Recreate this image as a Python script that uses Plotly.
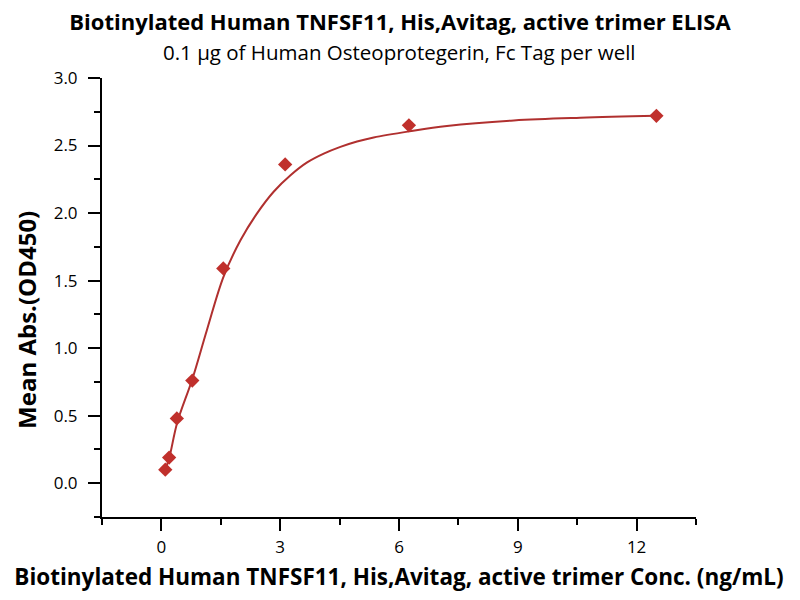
import plotly.graph_objects as go

# measured points
conc = [0.098, 0.195, 0.39, 0.78, 1.5625, 3.125, 6.25, 12.5]
od450 = [0.10, 0.19, 0.48, 0.76, 1.59, 2.36, 2.65, 2.72]

# fitted curve
fit_x = [0.098, 0.20, 0.40, 0.78, 1.15, 1.57, 2.00, 2.42, 2.84, 3.26, 3.68,
         4.10, 4.52, 4.94, 5.36, 6.26, 7.21, 8.90, 10.58, 12.5]
fit_y = [0.10, 0.19, 0.45, 0.77, 1.135, 1.53, 1.80, 2.00, 2.16, 2.28, 2.375,
         2.44, 2.49, 2.53, 2.56, 2.605, 2.645, 2.686, 2.706, 2.72]

x_ticks = [0, 3, 6, 9, 12]
y_ticks = [0.0, 0.5, 1.0, 1.5, 2.0, 2.5, 3.0]

font = "Open Sans"
fig = go.Figure()

fig.add_trace(go.Scatter(
    x=fit_x, y=fit_y, mode='lines', line_shape='spline',
    line=dict(color='#B0302F', width=2),
    hoverinfo='skip', showlegend=False
))
fig.add_trace(go.Scatter(
    x=conc, y=od450, mode='markers',
    marker=dict(symbol='diamond', size=11, color='#C0302C'),
    showlegend=False
))

axis_common = dict(
    showgrid=False, zeroline=False, showline=True, automargin=False,
    linecolor='black', linewidth=2,
    ticks='outside', ticklen=12, tickwidth=2, tickcolor='black',
    tickfont=dict(family=font, size=17, color='black'),
    minor=dict(ticks='outside', ticklen=6, tickwidth=2, tickcolor='black'),
)

# page body has an 8px margin, so the figure is 16px smaller than the window
fig.update_layout(
    width=784, height=584,
    paper_bgcolor='white', plot_bgcolor='white',
    margin=dict(l=94, r=96, t=70, b=75),
    title=dict(
        text="<b>Biotinylated Human TNFSF11, His,Avitag, active trimer ELISA</b>",
        x=0.5, xanchor='center', y=1.0, yanchor='top', pad=dict(t=7),
        font=dict(family=font, size=22, color='black')
    ),
    annotations=[
        dict(text="0.1 μg of Human Osteoprotegerin, Fc Tag per well",
             xref='paper', yref='paper', x=0.5, y=1.0, yshift=26,
             xanchor='center', yanchor='middle', showarrow=False,
             font=dict(family=font, size=20.5, color='black')),
        dict(text="<b>Mean Abs.(OD450)</b>", textangle=-90,
             xref='paper', yref='paper', x=0, y=0.449, xshift=-75,
             xanchor='center', yanchor='middle', showarrow=False,
             font=dict(family=font, size=24, color='black')),
    ],
    xaxis=dict(
        range=[-1.5, 13.5], tickvals=x_ticks, ticklabelstandoff=2, **axis_common,
        title=dict(text="<b>Biotinylated Human TNFSF11, His,Avitag, active trimer Conc. (ng/mL)</b>",
                   font=dict(family=font, size=22.5, color='black'), standoff=14),
    ),
    yaxis=dict(
        range=[-0.25, 3.0], tickvals=y_ticks, tickformat='.1f',
        ticklabelstandoff=7, **axis_common,
    ),
)
fig.update_xaxes(minor_tickvals=[-1.5, 1.5, 4.5, 7.5, 10.5, 13.5])
fig.update_yaxes(minor_tickvals=[-0.25, 0.25, 0.75, 1.25, 1.75, 2.25, 2.75])

fig.write_html("out.html")
